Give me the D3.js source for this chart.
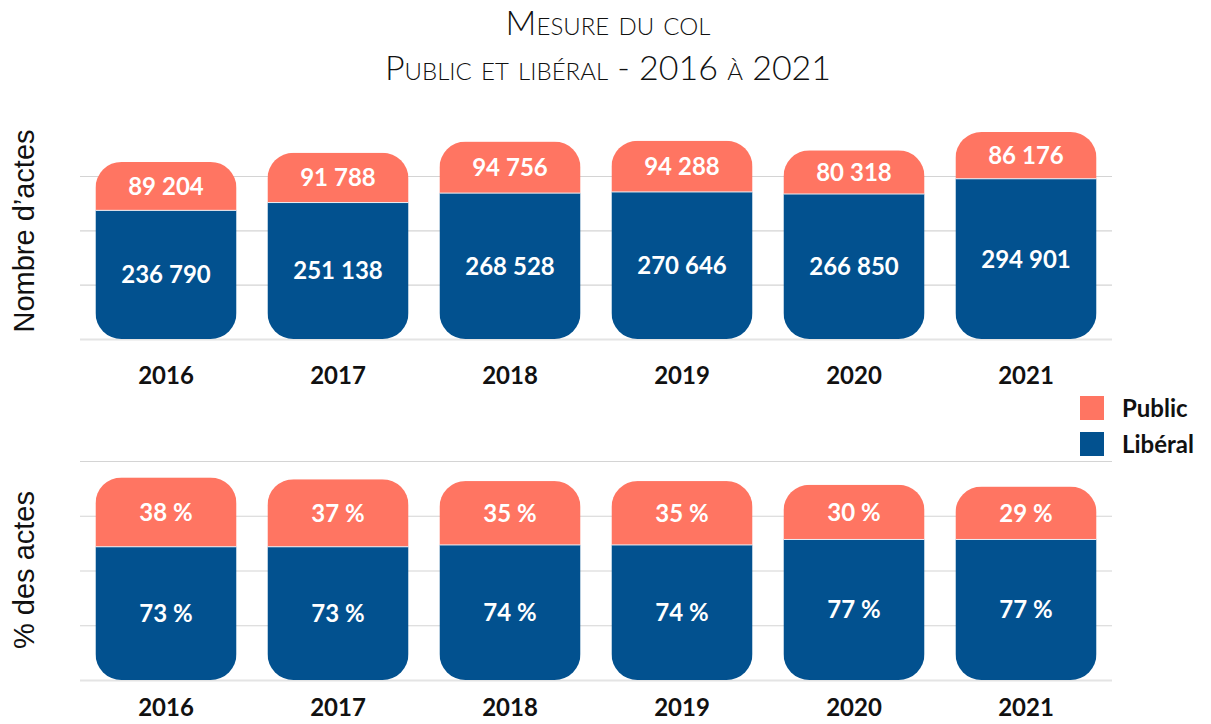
<!DOCTYPE html>
<html>
<head>
<meta charset="utf-8">
<script src="https://cdn.jsdelivr.net/npm/d3@7"></script>
<style>
  html, body { margin: 0; padding: 0; background: #fff; }
  svg { display: block; }
</style>
</head>
<body>
<svg id="chart" width="1211" height="724"></svg>
<script>
// ---- Data ----
const years = ["2016", "2017", "2018", "2019", "2020", "2021"];
const publicCounts = [89204, 91788, 94756, 94288, 80318, 86176];
const liberalCounts = [236790, 251138, 268528, 270646, 266850, 294901];
const publicPct = [38, 37, 35, 35, 30, 29];
const liberalPct = [73, 73, 74, 74, 77, 77];
const countTicks = [0, 100000, 200000, 300000];
const pctTicks = [0, 30, 60, 90, 120];
const seriesNames = ["Public", "Libéral"];
const titleLines = ["Mesure du col", "Public et libéral - 2016 à 2021"];
const axisTitles = ["Nombre d\u2019actes", "% des actes"];

// ---- Style ----
const COLOR_PUBLIC = "#FF7562";
const COLOR_LIBERAL = "#02518F";
const FONT = "Lato, 'Open Sans', sans-serif";

const svg = d3.select("#chart");
const locale = d3.formatLocale({ decimal: ",", thousands: "\u202F", grouping: [3], currency: ["", "\u00A0€"] });
const fmtCount = locale.format(",d");
const fmtPct = v => v + "\u00A0%";

// Title
svg.append("g").selectAll("text").data(titleLines).join("text")
  .attr("x", 608).attr("y", (d, i) => 35 + i * 45)
  .attr("text-anchor", "middle")
  .style("font-family", FONT).style("font-weight", 300)
  .style("font-variant", "small-caps")
  .style("font-size", "34px").style("fill", "#111")
  .text(d => d);

const x = d3.scaleBand().domain(years).range([80, 1112]).paddingInner(0.18).paddingOuter(0.09);

function panel(opts) {
  const { y, ticks, pub, lib, fmt, labelY, axisTitle, titleY, id } = opts;
  const g = svg.append("g");

  // gridlines
  g.append("g")
    .attr("transform", `translate(${x.range()[0]},0)`)
    .call(d3.axisLeft(y).tickValues(ticks).tickSize(-(x.range()[1] - x.range()[0])).tickFormat(""))
    .call(a => a.select(".domain").remove())
    .call(a => a.selectAll(".tick line").attr("stroke", "#d4d4d4").attr("stroke-width", 1.2))
    .call(a => a.selectAll(".tick").filter(d => d === 0).select("line").attr("stroke", "#e4e4e4").attr("stroke-width", 2));

  const data = years.map((yr, i) => ({ yr, pub: pub[i], lib: lib[i] }));

  const defs = g.append("defs");
  defs.selectAll("clipPath").data(data).join("clipPath")
    .attr("id", (d, i) => `${id}-clip-${i}`)
    .append("rect")
    .attr("x", d => x(d.yr)).attr("width", x.bandwidth())
    .attr("y", d => y(d.pub + d.lib)).attr("height", d => y(0) - y(d.pub + d.lib))
    .attr("rx", 26).attr("ry", 26);

  const bars = g.selectAll("g.bar").data(data).join("g")
    .attr("class", "bar")
    .attr("clip-path", (d, i) => `url(#${id}-clip-${i})`);

  bars.append("rect")
    .attr("x", d => x(d.yr)).attr("width", x.bandwidth())
    .attr("y", d => y(d.lib)).attr("height", d => y(0) - y(d.lib))
    .attr("fill", COLOR_LIBERAL);
  bars.append("rect")
    .attr("x", d => x(d.yr)).attr("width", x.bandwidth())
    .attr("y", d => y(d.pub + d.lib)).attr("height", d => y(d.lib) - y(d.pub + d.lib))
    .attr("fill", COLOR_PUBLIC);
  bars.append("line")
    .attr("x1", d => x(d.yr)).attr("x2", d => x(d.yr) + x.bandwidth())
    .attr("y1", d => y(d.lib)).attr("y2", d => y(d.lib))
    .attr("stroke", "#e9eef5").attr("stroke-width", 1);

  // value labels
  const lab = g.append("g")
    .style("font-family", FONT).style("font-weight", 700)
    .style("font-size", "24px").style("fill", "#fff")
    .attr("text-anchor", "middle");
  lab.selectAll("text.pub").data(data).join("text").attr("class", "pub")
    .attr("x", d => x(d.yr) + x.bandwidth() / 2)
    .attr("y", d => (y(d.pub + d.lib) + y(d.lib)) / 2)
    .attr("dy", "0.36em")
    .text(d => fmt(d.pub));
  lab.selectAll("text.lib").data(data).join("text").attr("class", "lib")
    .attr("x", d => x(d.yr) + x.bandwidth() / 2)
    .attr("y", d => (y(d.lib) + y(0)) / 2)
    .attr("dy", "0.36em")
    .text(d => fmt(d.lib));

  // x axis labels
  g.append("g")
    .attr("transform", `translate(0,${labelY})`)
    .call(d3.axisBottom(x).tickSize(0).tickPadding(0))
    .call(a => a.select(".domain").remove())
    .call(a => a.selectAll("text")
      .style("font-family", FONT).style("font-weight", 700)
      .style("font-size", "24px").style("fill", "#111")
      .attr("dy", "0.36em").attr("y", 0));

  // y title
  g.append("text")
    .attr("transform", `translate(34,${titleY}) rotate(-90)`)
    .attr("text-anchor", "middle")
    .style("font-family", "'Liberation Sans', Arial, sans-serif")
    .style("font-size", "29px").style("fill", "#111")
    .text(axisTitle);
}

panel({
  id: "top",
  y: d3.scaleLinear().domain([0, 300000]).range([339, 176]),
  ticks: countTicks, pub: publicCounts, lib: liberalCounts, fmt: fmtCount,
  labelY: 375, axisTitle: axisTitles[0], titleY: 231
});

panel({
  id: "bot",
  y: d3.scaleLinear().domain([0, 120]).range([680, 461]),
  ticks: pctTicks, pub: publicPct, lib: liberalPct, fmt: fmtPct,
  labelY: 707, axisTitle: axisTitles[1], titleY: 570
});

// Legend
const legend = svg.append("g");
const legColors = [COLOR_PUBLIC, COLOR_LIBERAL];
const li = legend.selectAll("g").data(seriesNames).join("g")
  .attr("transform", (d, i) => `translate(1080,${396 + i * 36})`);
li.append("rect").attr("width", 24).attr("height", 24).attr("fill", (d, i) => legColors[i]);
li.append("text").attr("x", 42).attr("y", 12).attr("dy", "0.36em")
  .style("font-family", FONT).style("font-weight", 700)
  .style("font-size", "24px").style("fill", "#111")
  .text(d => d);
</script>
</body>
</html>
